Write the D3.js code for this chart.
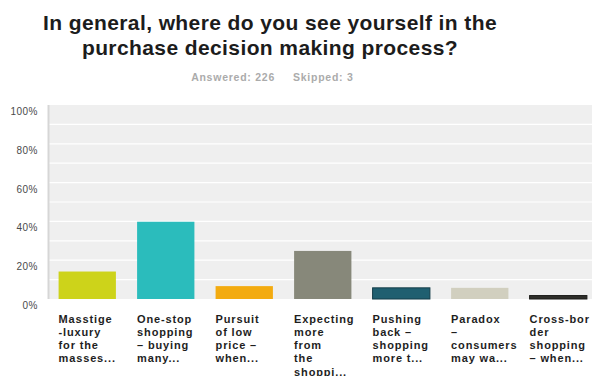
<!DOCTYPE html>
<html>
<head>
<meta charset="utf-8">
<script src="https://cdn.jsdelivr.net/npm/d3@7"></script>
<style>
  html, body { margin: 0; padding: 0; background: #fff; }
  svg { display: block; }
</style>
</head>
<body>
<svg id="chart" width="592" height="376"></svg>
<script>
// Survey question and response counts
const titleLines = ["In general, where do you see yourself in the", "purchase decision making process?"];
const answered = 226;
const skipped = 3;

// Answer choices (truncated as in the survey summary) and share of respondents (%)
const categories = ["Masstige", "One-stop", "Pursuit", "Expecting", "Pushing", "Paradox", "Cross-border"];
const categoryLabels = [
  ["Masstige", "-luxury", "for the", "masses..."],
  ["One-stop", "shopping", "\u2013 buying", "many..."],
  ["Pursuit", "of low", "price \u2013", "when..."],
  ["Expecting", "more", "from", "the", "shoppi..."],
  ["Pushing", "back \u2013", "shopping", "more t..."],
  ["Paradox", "\u2013", "consumers", "may wa..."],
  ["Cross-bor", "der", "shopping", "\u2013 when..."]
];
const values = [14.16, 39.82, 6.64, 24.78, 5.75, 5.75, 1.77];
const barColors = ["#cdd31a", "#2bbcbc", "#f3ab10", "#87887a", "#1f5f70", "#d1cfbf", "#2e2e2a"];
const barStrokes = [null, null, null, null, "#123c48", null, "#1a1a18"];
const yTicks = [0, 20, 40, 60, 80, 100];
const yGrid = [10, 20, 30, 40, 50, 60, 70, 80, 90];

const FONT = "Liberation Sans, Arial, Helvetica, sans-serif";
const svg = d3.select("#chart");

const plot = { left: 48, right: 597.5, top: 105, bottom: 299 };

const x = d3.scaleBand()
  .domain(categories)
  .range([plot.left, plot.right])
  .paddingInner(0.27)
  .paddingOuter(0.135);

const y = d3.scaleLinear()
  .domain([0, 100])
  .range([plot.bottom, plot.top]);

// Title
svg.append("g")
  .selectAll("text")
  .data(titleLines)
  .join("text")
  .attr("x", 270)
  .attr("y", (d, i) => 30 + i * 25)
  .attr("text-anchor", "middle")
  .attr("font-family", FONT)
  .attr("font-weight", "bold")
  .attr("font-size", 21)
  .attr("letter-spacing", 0.4)
  .attr("fill", "#1c1c1c")
  .text(d => d);

// Answered / skipped counts
const meta = svg.append("g")
  .attr("font-family", FONT)
  .attr("font-weight", "bold")
  .attr("font-size", 10.5)
  .attr("letter-spacing", 0.75)
  .attr("fill", "#ababab");
meta.append("text")
  .attr("x", 275).attr("y", 81)
  .attr("text-anchor", "end")
  .text(`Answered: ${answered}`);
meta.append("text")
  .attr("x", 293).attr("y", 81)
  .text(`Skipped: ${skipped}`);

// Plot background
svg.append("rect")
  .attr("x", plot.left)
  .attr("y", plot.top)
  .attr("width", 592 - plot.left)
  .attr("height", plot.bottom - plot.top)
  .attr("fill", "#efefef");

// Grid lines every 10%
svg.append("g")
  .selectAll("line")
  .data(yGrid)
  .join("line")
  .attr("x1", plot.left)
  .attr("x2", 592)
  .attr("y1", d => y(d))
  .attr("y2", d => y(d))
  .attr("stroke", "#ffffff")
  .attr("stroke-width", 1.2);

// Left axis rule
svg.append("line")
  .attr("x1", plot.left + 0.5).attr("x2", plot.left + 0.5)
  .attr("y1", plot.top).attr("y2", plot.bottom)
  .attr("stroke", "#d6d6d6")
  .attr("stroke-width", 2);

// Y axis labels
const yAxis = d3.axisLeft(y)
  .tickValues(yTicks)
  .tickFormat(d => d + "%")
  .tickSize(0)
  .tickPadding(10);

const yg = svg.append("g")
  .attr("transform", `translate(${plot.left},0)`)
  .call(yAxis);
yg.select(".domain").remove();
yg.selectAll("text")
  .attr("dy", "0.95em")
  .attr("font-family", FONT)
  .attr("font-size", 10)
  .attr("letter-spacing", 0.5)
  .attr("fill", "#4a4a4a");

// Bars
svg.append("g")
  .selectAll("rect")
  .data(values)
  .join("rect")
  .attr("x", (d, i) => x(categories[i]))
  .attr("y", d => y(d))
  .attr("width", x.bandwidth())
  .attr("height", d => plot.bottom - y(d))
  .attr("fill", (d, i) => barColors[i])
  .attr("stroke", (d, i) => barStrokes[i] || "none")
  .attr("stroke-width", 1);

// Category labels
const labelG = svg.append("g")
  .selectAll("text")
  .data(categoryLabels)
  .join("text")
  .attr("x", (d, i) => x(categories[i]))
  .attr("y", 322.5)
  .attr("font-family", FONT)
  .attr("font-weight", "bold")
  .attr("font-size", 11)
  .attr("letter-spacing", 0.85)
  .attr("fill", "#1e1e1e");

labelG.selectAll("tspan")
  .data((d, i) => d.map(t => ({ t, i })))
  .join("tspan")
  .attr("x", d => x(categories[d.i]))
  .attr("dy", (d, j) => j === 0 ? 0 : 13.3)
  .text(d => d.t);
</script>
</body>
</html>
